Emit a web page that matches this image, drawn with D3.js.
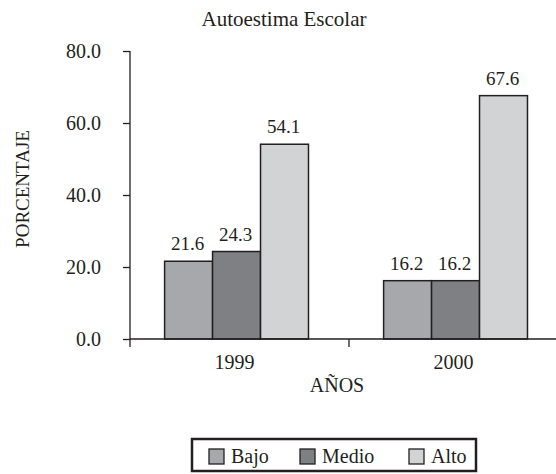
<!DOCTYPE html>
<html>
<head>
<meta charset="utf-8">
<script src="https://cdn.jsdelivr.net/npm/d3@7"></script>
<style>
    body { margin: 0; background: #fff; }
    text { font-family: "Liberation Serif", "Times New Roman", serif; fill: #231f20; }
</style>
</head>
<body>
<script>
    // chart data
    var years = ["1999", "2000"];
    var series = ["Bajo", "Medio", "Alto"];
    var bajo = [21.6, 16.2];
    var medio = [24.3, 16.2];
    var alto = [54.1, 67.6];
    var yTicks = [0, 20, 40, 60, 80];
    var colors = ["#a7a8ab", "#7f8083", "#d2d3d5"];

    var svgWidth = 556, svgHeight = 474;
    var svg = d3.select("body").append("svg")
        .attr("width", svgWidth)
        .attr("height", svgHeight);

    var ink = "#231f20";
    var plotLeft = 130, plotRight = 568, plotTop = 51, plotBottom = 339;

    var rows = years.map(function (yr, i) {
        return { year: yr, values: [bajo[i], medio[i], alto[i]] };
    });

    var x0 = d3.scaleBand().domain(years).range([plotLeft, plotRight]).padding(0);
    var bw = x0.bandwidth();
    var x1 = d3.scaleBand().domain(series).range([bw * 0.158, bw * 0.815]).padding(0);
    var y = d3.scaleLinear().domain([0, 80]).range([plotBottom, plotTop]);
    var color = d3.scaleOrdinal().domain(series).range(colors);

    // title
    svg.append("text")
        .attr("x", 284).attr("y", 26)
        .attr("text-anchor", "middle")
        .style("font-size", "21px")
        .text("Autoestima Escolar");

    // bars
    var groups = svg.selectAll("g.grp")
        .data(rows)
        .enter().append("g")
        .attr("class", "grp")
        .attr("transform", function (d) { return "translate(" + x0(d.year) + ",0)"; });

    groups.selectAll("rect")
        .data(function (d) { return d.values.map(function (v, i) { return { key: series[i], value: v }; }); })
        .enter().append("rect")
        .attr("x", function (d) { return x1(d.key); })
        .attr("y", function (d) { return y(d.value); })
        .attr("width", x1.bandwidth())
        .attr("height", function (d) { return y(0) - y(d.value); })
        .attr("fill", function (d) { return color(d.key); })
        .attr("stroke", ink)
        .attr("stroke-width", 1.5);

    groups.selectAll("text.val")
        .data(function (d) { return d.values.map(function (v, i) { return { key: series[i], value: v }; }); })
        .enter().append("text")
        .attr("class", "val")
        .attr("x", function (d) { return x1(d.key) + x1.bandwidth() / 2 - 1; })
        .attr("y", function (d) { return y(d.value) - 11; })
        .attr("text-anchor", "middle")
        .style("font-size", "19px")
        .text(function (d) { return d3.format(".1f")(d.value); });

    // y axis
    var yAxis = d3.axisLeft(y)
        .tickValues(yTicks)
        .tickFormat(d3.format(".1f"))
        .tickSize(7)
        .tickSizeOuter(0)
        .tickPadding(22);
    var gy = svg.append("g")
        .attr("transform", "translate(" + plotLeft + ",0)")
        .call(yAxis);
    gy.select(".domain").remove();
    gy.selectAll("line").attr("stroke", ink).attr("stroke-width", 1.3);
    gy.selectAll("text")
        .style("font-size", "20px")
        .style("font-family", "'Liberation Serif', 'Times New Roman', serif")
        .attr("fill", ink);
    svg.append("line")
        .attr("x1", plotLeft).attr("x2", plotLeft)
        .attr("y1", y(80)).attr("y2", y(0) + 8)
        .attr("stroke", ink).attr("stroke-width", 1.3);

    // x axis
    svg.append("line")
        .attr("x1", plotLeft).attr("x2", svgWidth)
        .attr("y1", y(0)).attr("y2", y(0))
        .attr("stroke", ink).attr("stroke-width", 1.5);
    svg.selectAll("line.xtick")
        .data(years.slice(1))
        .enter().append("line")
        .attr("class", "xtick")
        .attr("x1", function (d) { return x0(d); })
        .attr("x2", function (d) { return x0(d); })
        .attr("y1", y(0)).attr("y2", y(0) + 8)
        .attr("stroke", ink).attr("stroke-width", 1.3);
    svg.selectAll("text.xlab")
        .data(years)
        .enter().append("text")
        .attr("class", "xlab")
        .attr("x", function (d) { return x0(d) + (x1.range()[0] + x1.range()[1]) / 2 - 2; })
        .attr("y", 369)
        .attr("text-anchor", "middle")
        .style("font-size", "20px")
        .text(function (d) { return d; });

    // axis titles
    svg.append("text")
        .attr("x", 337).attr("y", 392)
        .attr("text-anchor", "middle")
        .style("font-size", "20px")
        .text("AÑOS");
    svg.append("text")
        .attr("transform", "translate(29,189) rotate(-90)")
        .attr("text-anchor", "middle")
        .style("font-size", "19px")
        .text("PORCENTAJE");

    // legend
    svg.append("rect")
        .attr("x", 192).attr("y", 439)
        .attr("width", 284).attr("height", 32)
        .attr("fill", "none")
        .attr("stroke", ink)
        .attr("stroke-width", 2.5);
    var legX = [209, 300, 409];
    var leg = svg.selectAll("g.leg")
        .data(series)
        .enter().append("g")
        .attr("class", "leg")
        .attr("transform", function (d, i) { return "translate(" + legX[i] + ",449)"; });
    leg.append("rect")
        .attr("width", 15).attr("height", 15)
        .attr("fill", function (d) { return color(d); })
        .attr("stroke", ink).attr("stroke-width", 1.3);
    leg.append("text")
        .attr("x", 22).attr("y", 14)
        .style("font-size", "20px")
        .text(function (d) { return d; });
</script>
</body>
</html>
